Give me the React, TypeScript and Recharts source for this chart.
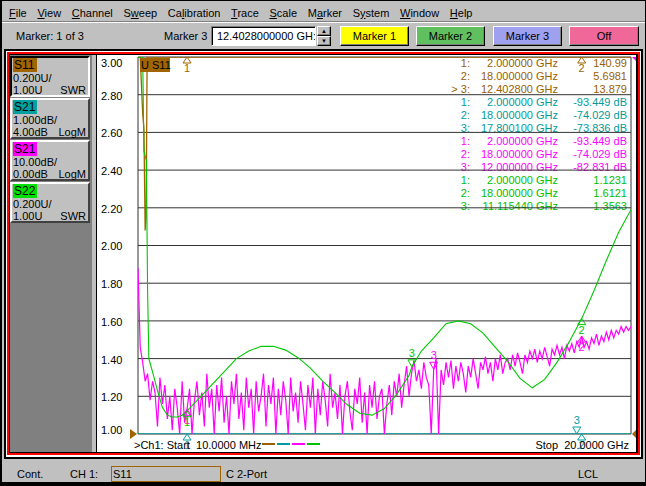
import React from 'react';
import { LineChart, Line, XAxis, YAxis, CartesianGrid, ReferenceDot } from 'recharts';

const FONT = '"Liberation Sans", Arial, Helvetica, sans-serif';
const BROWN = '#a06400';
const TEAL = '#00a0a0';
const MAGENTA = '#ff00ff';
const GREEN = '#00c800';

// sweep, GHz
const SWEEP_START = 0.01;
const SWEEP_STEP = 0.1;

const X_DIVS = [0.01, 2, 4, 6, 8, 10, 12, 14, 16, 18, 20];
const Y_TICKS = [1.0, 1.2, 1.4, 1.6, 1.8, 2.0, 2.2, 2.4, 2.6, 2.8, 3.0];

const MENU = ['File', 'View', 'Channel', 'Sweep', 'Calibration', 'Trace', 'Scale', 'Marker', 'System', 'Window', 'Help'];
const MENU_KEY = [0, 0, 0, 1, 2, 0, 0, 1, 1, 0, 0];

// trace 1: S11 SWR (mostly above top of screen)
const S11_F = [0.01, 0.1, 0.2, 0.25, 0.3, 0.34, 0.38, 2.0, 12.4028, 18.0, 20];
const S11_SWR = [3.6, 3.1, 2.7, 2.62, 2.08, 2.15, 3.5, 140.99, 13.879, 5.6981, 5.3];

// trace 2: S21 LogM 1 dB/div, ref 4 dB (below bottom of screen)
const S21_F = [0.01, 2.0, 17.8001, 18.0, 20];
const S21_DB = [-60, -93.449, -73.836, -74.029, -72.0];

// trace 3: S21 LogM 10 dB/div, ref 0 dB, one value per sweep step
const S21B_DB = [
  -56, -77, -81, -86, -84, -91, -86, -89, -98, -85,
  -92, -87, -96, -90, -99, -88, -93, -101, -86, -97,
  -93.449, -88, -102, -91, -86, -95, -89, -98, -84, -93,
  -88, -100, -87, -94, -85, -97, -90, -101, -86, -92,
  -84, -96, -89, -99, -85, -93, -88, -102, -86, -94,
  -90, -84, -98, -87, -92, -85, -100, -88, -95, -86,
  -91, -101, -85, -94, -89, -97, -86, -92, -99, -87,
  -93, -85, -100, -88, -95, -86, -91, -98, -84, -93,
  -89, -96, -87, -101, -90, -86, -94, -99, -88, -92,
  -85, -97, -89, -102, -87, -93, -86, -96, -90, -88,
  -101, -92, -87, -95, -86, -90, -84, -93, -87, -82,
  -90, -84, -80.5, -86, -83, -88, -81, -85, -87, -104,
  -82.831, -80, -105, -83, -87, -81, -85, -80.5, -88, -82,
  -86, -81, -84, -89, -82, -85, -80, -84, -88, -81,
  -83, -79.5, -84, -81, -86, -80, -83, -79, -84, -81,
  -80, -83, -79, -82, -78.5, -81, -84, -79, -81, -78,
  -80, -77.5, -81, -78, -80, -77, -79.5, -82, -77.5, -79,
  -76.5, -79, -77, -80, -76.5, -78, -76, -78.5, -75.5, -77,
  -74.029, -77, -75.5, -77.5, -74.5, -76, -73.5, -76.5, -74, -75.5,
  -73, -75, -72.5, -74.5, -72.5, -73.5, -71.5, -73, -71.5, -72.5,
  -71.5,
];

// trace 4: S22 SWR
const S22_F = [0.01, 0.2, 0.25, 0.35, 0.4, 0.45, 0.6, 0.8, 1.0, 1.2, 1.4, 1.6, 1.8, 2.0, 2.5, 3.0, 3.5, 4.0, 4.5, 5.0,
  5.5, 6.0, 6.5, 7.0, 7.5, 8.0, 8.5, 9.0, 9.5, 10, 10.5, 11, 11.11544, 11.5, 12, 12.5, 13, 13.5, 14, 14.5,
  15, 15.5, 16, 16.5, 17, 17.5, 18, 18.5, 19, 19.5, 20];
const S22_SWR = [3.8, 3.05, 2.5, 2.45, 1.75, 1.4, 1.33, 1.23, 1.14, 1.1, 1.09, 1.09, 1.1, 1.1231, 1.19, 1.26, 1.33, 1.4, 1.44, 1.465,
  1.465, 1.445, 1.405, 1.35, 1.28, 1.22, 1.155, 1.11, 1.1, 1.135, 1.21, 1.31, 1.3563, 1.44, 1.51, 1.585, 1.6, 1.585, 1.535, 1.46,
  1.385, 1.295, 1.245, 1.29, 1.38, 1.49, 1.6121, 1.76, 1.92, 2.07, 2.19];

// markers
const MKR_LABELS = ['1', '2', '3'];
const ACTIVE_MKR = 2;
const S11_MKR_F = [2.0, 18.0, 12.4028];
const S11_MKR_SWR = [140.99, 5.6981, 13.879];
const S21_MKR_F = [2.0, 18.0, 17.8001];
const S21_MKR_DB = [-93.449, -74.029, -73.836];
const S21B_MKR_F = [2.0, 18.0, 12.0];
const S21B_MKR_DB = [-93.449, -74.029, -82.831];
const S22_MKR_F = [2.0, 18.0, 11.11544];
const S22_MKR_SWR = [1.1231, 1.6121, 1.3563];

// channel trace buttons
const TRACE_NAMES = ['S11', 'S21', 'S21', 'S22'];
const TRACE_SCALE = ['0.200U/', '1.000dB/', '10.00dB/', '0.200U/'];
const TRACE_REF = ['1.00U', '4.00dB', '0.00dB', '1.00U'];
const TRACE_FMT = ['SWR', 'LogM', 'LogM', 'SWR'];
const TAG_COLORS = [BROWN, '#00a0a0', '#ff00ff', '#00e000'];
const TEXT_COLORS = ['#9a6000', '#009c9c', '#ff00ff', '#00c000'];

const clamp = (v: number) => Math.min(3, Math.max(1, v));
const swrToY = (v: number) => v;
const s21ToY = (db: number) => 3 + (db - 4) / 5;
const s21bToY = (db: number) => 3 + db / 50;

const s11Data = S11_F.map((f, i) => ({ f, v: clamp(swrToY(S11_SWR[i])) }));
const s21Data = S21_F.map((f, i) => ({ f, v: clamp(s21ToY(S21_DB[i])) }));
const s21bData = S21B_DB.map((db, i) => ({ f: Math.max(SWEEP_START, i * SWEEP_STEP), v: clamp(s21bToY(db)) }));
const s22Data = S22_F.map((f, i) => ({ f, v: clamp(swrToY(S22_SWR[i])) }));

const ghz = (f: number) => f.toFixed(6) + ' GHz';
const readouts = [
  S11_MKR_F.map((f, i) => ({ f: ghz(f), v: S11_MKR_SWR[i].toPrecision(5) })),
  S21_MKR_F.map((f, i) => ({ f: ghz(f), v: S21_MKR_DB[i].toFixed(3) + ' dB' })),
  S21B_MKR_F.map((f, i) => ({ f: ghz(f), v: S21B_MKR_DB[i].toFixed(3) + ' dB' })),
  S22_MKR_F.map((f, i) => ({ f: ghz(f), v: S22_MKR_SWR[i].toPrecision(5) })),
];

const markers = [
  ...S11_MKR_F.map((f, i) => ({ f, y: clamp(swrToY(S11_MKR_SWR[i])), color: BROWN, i, clipTop: true })),
  ...S21_MKR_F.map((f, i) => ({ f, y: clamp(s21ToY(S21_MKR_DB[i])), color: TEAL, i, clipTop: false })),
  ...S21B_MKR_F.map((f, i) => ({ f, y: clamp(s21bToY(S21B_MKR_DB[i])), color: MAGENTA, i, clipTop: false })),
  ...S22_MKR_F.map((f, i) => ({ f, y: clamp(swrToY(S22_MKR_SWR[i])), color: GREEN, i, clipTop: false })),
].filter((m) => !(m.clipTop && m.i === ACTIVE_MKR));

const MarkerGlyph = (props: any) => {
  const { cx, cy, color, label, active } = props;
  if (active) {
    return (
      <g>
        <path d={`M${cx - 4},${cy - 7}L${cx + 4},${cy - 7}L${cx},${cy}Z`} fill="none" stroke={color} />
        <text x={cx} y={cy - 10} textAnchor="middle" fontSize={11} fontFamily={FONT} fill={color}>{label}</text>
      </g>
    );
  }
  return (
    <g>
      <path d={`M${cx},${cy}L${cx + 4},${cy + 6}L${cx - 4},${cy + 6}Z`} fill="none" stroke={color} />
      <text x={cx} y={cy + 15} textAnchor="middle" fontSize={11} fontFamily={FONT} fill={color}>{label}</text>
    </g>
  );
};

const RefTriangle = (props: any) => {
  const { cx, cy, color, side } = props;
  const d = side === 'left'
    ? `M${cx - 8},${cy - 5}L${cx - 8},${cy + 5}L${cx - 1},${cy}Z`
    : side === 'right'
      ? `M${cx + 1},${cy}L${cx + 6},${cy - 5}L${cx + 6},${cy + 5}Z`
      : `M${cx + 1},${cy}L${cx + 5},${cy}L${cx + 5},${cy + 4}Z`;
  return <path d={d} fill={color} stroke="none" />;
};

const YTick = (props: any) => {
  const { y, payload } = props;
  const v = payload.value as number;
  const off = v >= 3 ? 6 : v <= 1 ? -4 : 1;
  return (
    <text x={4} y={y + off} dy="0.36em" fontSize={11} fontFamily={FONT} fill="#000">{v.toFixed(2)}</text>
  );
};

const raised = {
  borderTop: '1px solid #fff', borderLeft: '1px solid #fff',
  borderBottom: '1px solid #000', borderRight: '1px solid #000',
  boxShadow: 'inset -1px -1px #808080', boxSizing: 'border-box' as const,
};
const sunken = {
  borderTop: '1px solid #808080', borderLeft: '1px solid #808080',
  borderBottom: '1px solid #fff', borderRight: '1px solid #fff',
  boxShadow: 'inset 1px 1px #000', boxSizing: 'border-box' as const,
};

const abs = (left: number, top: number, width: number, height: number, extra: React.CSSProperties = {}): React.CSSProperties => ({
  position: 'absolute', left, top, width, height, ...extra,
});

function TraceButton({ k, top }: { k: number; top: number }) {
  const pressed = k === 0;
  const border = pressed
    ? { borderTop: '2px solid #000', borderLeft: '2px solid #000', borderBottom: '2px solid #fff', borderRight: '2px solid #fff' }
    : { borderTop: '2px solid #fff', borderLeft: '2px solid #fff', borderBottom: '2px solid #404040', borderRight: '2px solid #404040' };
  const line = { fontSize: 11, lineHeight: '12px', whiteSpace: 'nowrap' as const };
  return (
    <div style={abs(10, top, 80, 41, { background: '#c0c0c0', boxSizing: 'border-box', ...border })}>
      <div style={abs(1, 0, 23, 14, { background: TAG_COLORS[k], fontSize: 12, lineHeight: '14px', paddingLeft: 1 })}>{TRACE_NAMES[k]}</div>
      <div style={abs(1, 14, 70, 12, line)}>{TRACE_SCALE[k]}</div>
      <div style={abs(1, 26, 70, 12, line)}>{TRACE_REF[k]}</div>
      <div style={abs(30, 26, 44, 12, { ...line, textAlign: 'right' })}>{TRACE_FMT[k]}</div>
    </div>
  );
}

export default function App() {
  return (
    <div style={{ position: 'fixed', left: 0, top: 0, width: 646, height: 486, background: '#000', fontFamily: FONT, color: '#000', overflow: 'hidden' }}>
      <div style={abs(2, 1, 643, 481, { background: '#c0c0c0' })} />

      {/* menu bar */}
      <div style={{ position: 'absolute', left: 9, top: 6, display: 'flex', gap: 10.7, fontSize: 11, lineHeight: '14px' }}>
        {MENU.map((m, i) => (
          <span key={m}>
            {m.slice(0, MENU_KEY[i])}<u>{m[MENU_KEY[i]]}</u>{m.slice(MENU_KEY[i] + 1)}
          </span>
        ))}
      </div>
      <div style={abs(2, 21, 643, 1, { background: '#808080' })} />
      <div style={abs(2, 22, 643, 1, { background: '#fff' })} />

      {/* toolbar */}
      <div style={abs(16, 29, 80, 14, { fontSize: 11, lineHeight: '14px' })}>Marker: 1 of 3</div>
      <div style={abs(164, 29, 46, 14, { fontSize: 11, lineHeight: '14px' })}>Marker 3</div>
      <div style={abs(211, 26, 105, 20, { background: '#fff', ...sunken, fontSize: 11, lineHeight: '18px', paddingLeft: 5, overflow: 'hidden', whiteSpace: 'nowrap' })}>12.4028000000 GH:</div>
      <div style={abs(317, 26, 14, 10, { background: '#c0c0c0', ...raised, fontSize: 6, lineHeight: '8px', textAlign: 'center' })}>▲</div>
      <div style={abs(317, 36, 14, 10, { background: '#c0c0c0', ...raised, fontSize: 6, lineHeight: '8px', textAlign: 'center' })}>▼</div>
      <div style={abs(340, 26, 69, 20, { background: '#ffff00', ...raised, fontSize: 11, lineHeight: '18px', textAlign: 'center' })}>Marker 1</div>
      <div style={abs(416, 26, 69, 20, { background: '#60c060', ...raised, fontSize: 11, lineHeight: '18px', textAlign: 'center' })}>Marker 2</div>
      <div style={abs(493, 26, 69, 20, { background: '#a0a0f0', ...raised, fontSize: 11, lineHeight: '18px', textAlign: 'center' })}>Marker 3</div>
      <div style={abs(569, 26, 70, 20, { background: '#f06898', ...raised, fontSize: 11, lineHeight: '18px', textAlign: 'center' })}>Off</div>

      {/* channel window frame */}
      <div style={abs(4, 49, 639, 410, { background: '#000' })} />
      <div style={abs(6, 51, 635, 406, { background: '#fff' })} />
      <div style={abs(7, 52, 633, 403, { background: '#ff0000' })} />
      <div style={abs(9, 54, 629, 399, { background: '#000' })} />
      <div style={abs(10, 55, 82, 397, { background: '#808080' })} />
      <div style={abs(92, 55, 4, 397, { background: '#c0c0c0' })} />
      <div style={abs(97, 55, 539, 397, { background: '#fff' })} />

      {TRACE_NAMES.map((_, k) => (
        <TraceButton key={k} k={k} top={56 + k * 42} />
      ))}

      {/* marker readout */}
      {readouts.map((rows, t) =>
        rows.map((r, i) => {
          const yc = 63 + (t * 3 + i) * 13;
          const color = TEXT_COLORS[t];
          const idx = (t === 0 && i === ACTIVE_MKR ? '> ' : '') + MKR_LABELS[i] + ':';
          return (
            <React.Fragment key={`${t}-${i}`}>
              <div style={abs(430, yc - 7, 40, 14, { color, fontSize: 11, lineHeight: '14px', textAlign: 'right', whiteSpace: 'pre' })}>{idx}</div>
              <div style={abs(470, yc - 7, 88, 14, { color, fontSize: 11, lineHeight: '14px', textAlign: 'right' })}>{r.f}</div>
              <div style={abs(556, yc - 7, 71, 14, { color, fontSize: 11, lineHeight: '14px', textAlign: 'right' })}>{r.v}</div>
            </React.Fragment>
          );
        })
      )}

      {/* chart */}
      <div style={abs(97, 55, 539, 400)}>
        <LineChart width={539} height={400} margin={{ top: 2, right: 5, bottom: 20, left: 0 }}>
          <CartesianGrid stroke="#333" strokeWidth={1} fill="none" />
          <XAxis type="number" dataKey="f" domain={[0.01, 20]} ticks={X_DIVS} interval={0} tick={false}
            axisLine={false} tickLine={false} height={1} allowDataOverflow />
          <YAxis type="number" domain={[1, 3]} ticks={Y_TICKS} interval={0} width={41} axisLine={false}
            tickLine={false} tick={<YTick />} allowDataOverflow />
          <Line data={s11Data} dataKey="v" type="linear" stroke={BROWN} strokeWidth={1.3} dot={false} activeDot={false} isAnimationActive={false} />
          <Line data={s21Data} dataKey="v" type="linear" stroke={TEAL} strokeWidth={1.3} dot={false} activeDot={false} isAnimationActive={false} />
          <Line data={s21bData} dataKey="v" type="linear" stroke={MAGENTA} strokeWidth={1.2} dot={false} activeDot={false} isAnimationActive={false} />
          <Line data={s22Data} dataKey="v" type="linear" stroke={GREEN} strokeWidth={1.1} dot={false} activeDot={false} isAnimationActive={false} />
          <ReferenceDot x={0.01} y={1} ifOverflow="visible" shape={(p: any) => <RefTriangle {...p} color={BROWN} side="left" />} />
          <ReferenceDot x={20} y={1} ifOverflow="visible" shape={(p: any) => <RefTriangle {...p} color={BROWN} side="right" />} />
          <ReferenceDot x={20} y={3} ifOverflow="visible" shape={(p: any) => <RefTriangle {...p} color={MAGENTA} side="corner" />} />
          {markers.map((m, j) => (
            <ReferenceDot key={j} x={m.f} y={m.y} ifOverflow="visible"
              shape={(p: any) => <MarkerGlyph {...p} color={m.color} label={MKR_LABELS[m.i]} active={m.i === ACTIVE_MKR} />} />
          ))}
        </LineChart>
      </div>

      <div style={abs(140, 58, 30, 14, { background: BROWN, fontSize: 11, lineHeight: '14px', paddingLeft: 1, whiteSpace: 'nowrap', boxSizing: 'border-box' })}>U S11</div>

      {/* sweep annotation */}
      <div style={abs(134, 438, 140, 14, { fontSize: 11, lineHeight: '14px', whiteSpace: 'pre' })}>{'>Ch1: Start  10.0000 MHz'}</div>
      {TAG_COLORS.map((c, k) => (
        <div key={k} style={abs(262 + k * 15, 443, 13, 2, { background: TEXT_COLORS[k] })} />
      ))}
      <div style={abs(520, 438, 109, 14, { fontSize: 11, lineHeight: '14px', textAlign: 'right', whiteSpace: 'pre' })}>{'Stop  20.0000 GHz'}</div>

      {/* status bar */}
      <div style={abs(17, 467, 40, 14, { fontSize: 11, lineHeight: '14px' })}>Cont.</div>
      <div style={abs(70, 467, 40, 14, { fontSize: 11, lineHeight: '14px' })}>CH 1:</div>
      <div style={abs(111, 466, 110, 16, { border: `1px solid ${BROWN}`, boxSizing: 'border-box', fontSize: 11, lineHeight: '14px', paddingLeft: 1 })}>S11</div>
      <div style={abs(226, 467, 60, 14, { fontSize: 11, lineHeight: '14px' })}>C 2-Port</div>
      <div style={abs(578, 467, 40, 14, { fontSize: 11, lineHeight: '14px' })}>LCL</div>
    </div>
  );
}
